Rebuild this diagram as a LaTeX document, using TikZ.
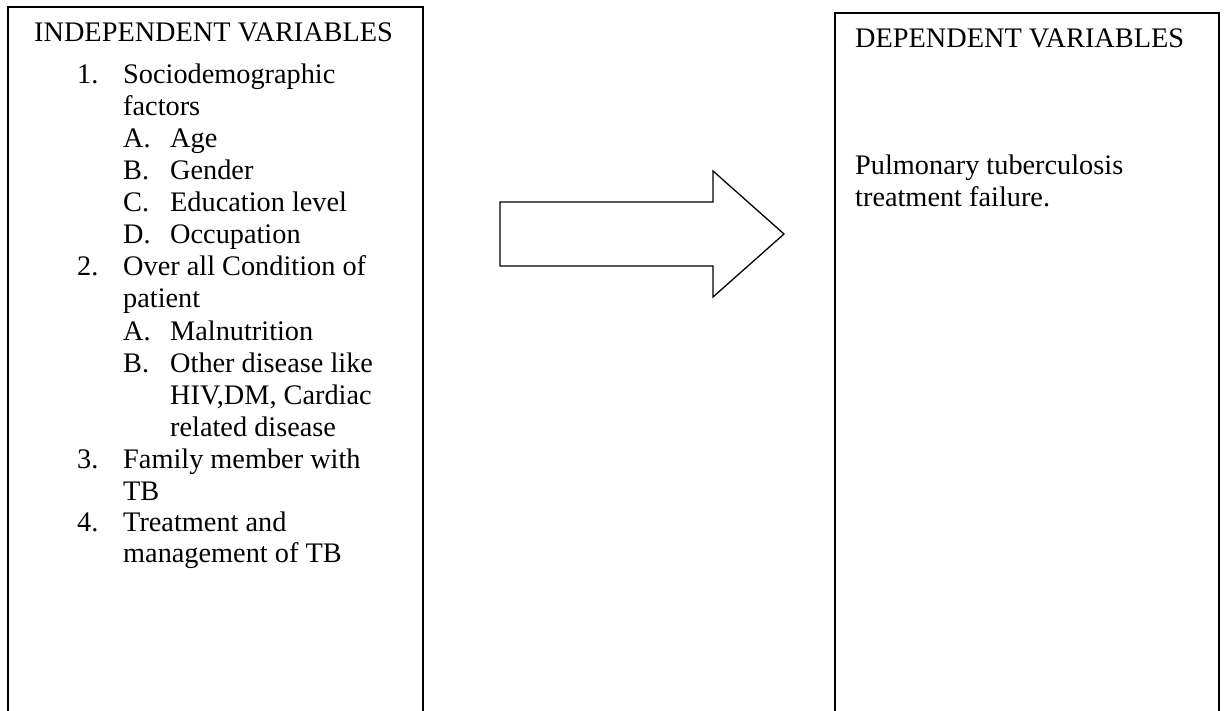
\documentclass[tikz,border=0pt]{standalone}
\usepackage{fontspec}
\setmainfont{Liberation Serif}
\begin{document}
\begin{tikzpicture}[x=1pt,y=-1pt,
  txt/.style={anchor=base west,inner sep=0pt,font=\fontsize{28.3pt}{32pt}\selectfont},
  frame/.style={draw=black,line width=1.8pt},
  bigarrow/.style={draw=black,line width=1.3pt,line join=miter,fill=white}]
\useasboundingbox (0,0) rectangle (1226,711);
% left box (open at the bottom)
\draw[frame] (8,712) -- (8,7) -- (423,7) -- (423,712);
% right box
\draw[frame] (835,712) -- (835,13) -- (1219,13) -- (1219,712);
% arrow
\draw[bigarrow] (500,202) -- (713,202) -- (713,171) -- (784,234) -- (713,297) -- (713,266) -- (500,266) -- cycle;
% left texts
\node[txt] (ti) at (34,42) {INDEPENDENT VARIABLES};
\node[txt] (n1) at (77,84) {1.};
\node[txt] (t1a) at (123,84) {Sociodemographic};
\node[txt] (t1b) at (123,116) {factors};
\node[txt] (la) at (123,148) {A.};
\node[txt] (ta) at (170,148) {Age};
\node[txt] (lb) at (123,180) {B.};
\node[txt] (tb) at (170,180) {Gender};
\node[txt] (lc) at (123,212) {C.};
\node[txt] (tc) at (170,212) {Education level};
\node[txt] (ld) at (123,244) {D.};
\node[txt] (td) at (170,244) {Occupation};
\node[txt] (n2) at (77,276) {2.};
\node[txt] (t2a) at (123,276) {Over all Condition of};
\node[txt] (t2b) at (123,308) {patient};
\node[txt] (l2a) at (123,340) {A.};
\node[txt] (t2aa) at (170,340) {Malnutrition};
\node[txt] (l2b) at (123,372) {B.};
\node[txt] (t2ba) at (170,372) {Other disease like};
\node[txt] (t2bb) at (170,404) {HIV,DM, Cardiac};
\node[txt] (t2bc) at (170,436) {related disease};
\node[txt] (n3) at (77,468) {3.};
\node[txt] (t3a) at (123,468) {Family member with};
\node[txt] (t3b) at (123,500) {TB};
\node[txt] (n4) at (77,531) {4.};
\node[txt] (t4a) at (123,531) {Treatment and};
\node[txt] (t4b) at (123,562) {management of TB};
% right texts
\node[txt] (td0) at (855,48) {DEPENDENT VARIABLES};
\node[txt] (p1) at (855,175) {Pulmonary tuberculosis};
\node[txt] (p2) at (855,207) {treatment failure.};
\end{tikzpicture}
\end{document}
